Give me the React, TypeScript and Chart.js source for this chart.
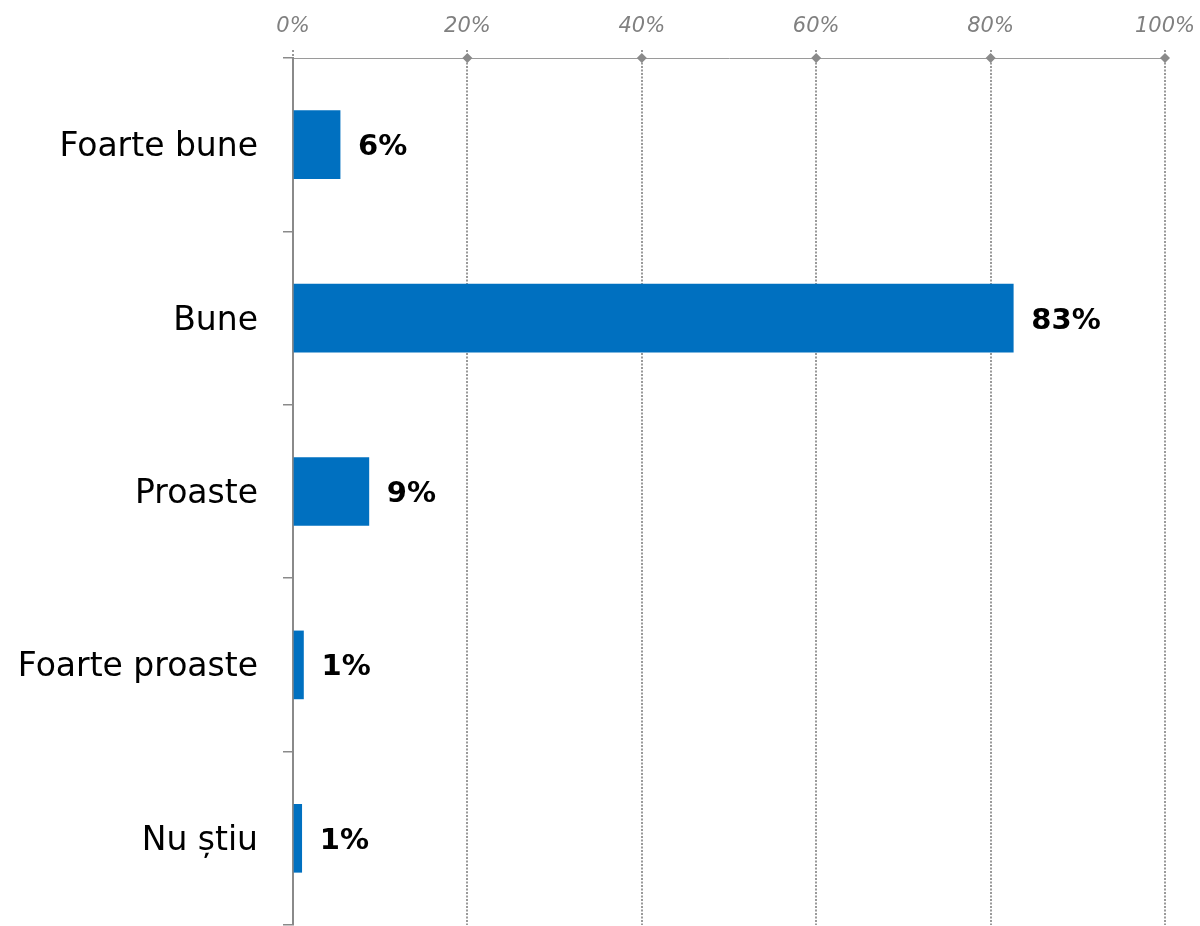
import React, { useEffect, useRef } from "react";
import { Chart, registerables } from "chart.js";

Chart.register(...registerables);

const categories = ["Foarte bune", "Bune", "Proaste", "Foarte proaste", "Nu știu"];
const values = [5.4, 82.6, 8.7, 1.2, 1.0];
const valueLabels = ["6%", "83%", "9%", "1%", "1%"];
const xTickValues = [0, 20, 40, 60, 80, 100];

const FONT = "'DejaVu Sans', 'Noto Sans', sans-serif";

const diamondPlugin = {
  id: "diamonds",
  afterDraw(chart: any) {
    const ctx = chart.ctx;
    const xs = chart.scales.x;
    const top = chart.chartArea.top;
    ctx.save();
    ctx.fillStyle = "#8a8a8a";
    xTickValues.forEach((v) => {
      if (v === 0) return;
      const px = xs.getPixelForValue(v);
      const r = 5;
      ctx.beginPath();
      ctx.moveTo(px, top - r);
      ctx.lineTo(px + r, top);
      ctx.lineTo(px, top + r);
      ctx.lineTo(px - r, top);
      ctx.closePath();
      ctx.fill();
    });
    ctx.restore();
  },
};

const valueLabelPlugin = {
  id: "valueLabels",
  afterDatasetsDraw(chart: any) {
    const ctx = chart.ctx;
    const meta = chart.getDatasetMeta(0);
    ctx.save();
    ctx.font = `bold 29px ${FONT}`;
    ctx.fillStyle = "#000";
    ctx.textAlign = "left";
    ctx.textBaseline = "middle";
    meta.data.forEach((bar: any, i: number) => {
      ctx.fillText(valueLabels[i], bar.x + 18, bar.y + 3);
    });
    ctx.restore();
  },
};

function zeroPad(s: any) {
  s.paddingTop = 0;
  s.paddingBottom = 0;
  s.paddingLeft = 0;
  s.paddingRight = 0;
}

export default function App() {
  const ref = useRef<HTMLCanvasElement | null>(null);
  useEffect(() => {
    if (!ref.current) return;
    Chart.defaults.font.family = FONT;
    const chart = new Chart(ref.current, {
      type: "bar",
      data: {
        labels: categories,
        datasets: [
          {
            data: values,
            backgroundColor: "#0070C0",
            borderWidth: 0,
            barThickness: 68,
          },
        ],
      },
      options: {
        indexAxis: "y",
        responsive: false,
        animation: false,
        layout: { padding: { top: 0, right: 35, bottom: 1, left: 0 } },
        plugins: { legend: { display: false }, tooltip: { enabled: false } },
        scales: {
          x: {
            position: "top",
            min: 0,
            max: 100,
            afterFit: (s: any) => {
              s.height = 58;
              zeroPad(s);
            },
            afterBuildTicks: (s: any) => {
              s.ticks = xTickValues.map((v) => ({ value: v }));
            },
            ticks: {
              padding: 11,
              color: "#808080",
              font: { size: 21, style: "italic", family: FONT },
              callback: (v: any) => `${v}%`,
            },
            grid: {
              color: "#9a9a9a",
              lineWidth: 2,
              borderDash: [2, 2],
              tickBorderDash: [2, 2],
              tickLength: 8,
              drawTicks: true,
            },
            border: {
              display: true,
              color: "#9a9a9a",
              width: 1,
              dash: [2, 1.5],
            },
          },
          y: {
            afterFit: (s: any) => {
              s.width = 293;
              zeroPad(s);
            },
            ticks: {
              padding: 25,
              labelOffset: 3,
              color: "#000",
              font: { size: 33, family: FONT },
            },
            grid: {
              display: true,
              drawOnChartArea: false,
              drawTicks: true,
              tickLength: 10,
              color: "#8a8a8a",
              lineWidth: 1.5,
              offset: true,
            },
            border: { display: true, color: "#8a8a8a", width: 2 },
          },
        },
      },
      plugins: [diamondPlugin, valueLabelPlugin],
    } as any);
    return () => chart.destroy();
  }, []);

  return (
    <div style={{ position: "absolute", left: 0, top: 0, width: 1200, height: 926, background: "#fff" }}>
      <canvas ref={ref} width={1200} height={926} style={{ display: "block" }} />
    </div>
  );
}
